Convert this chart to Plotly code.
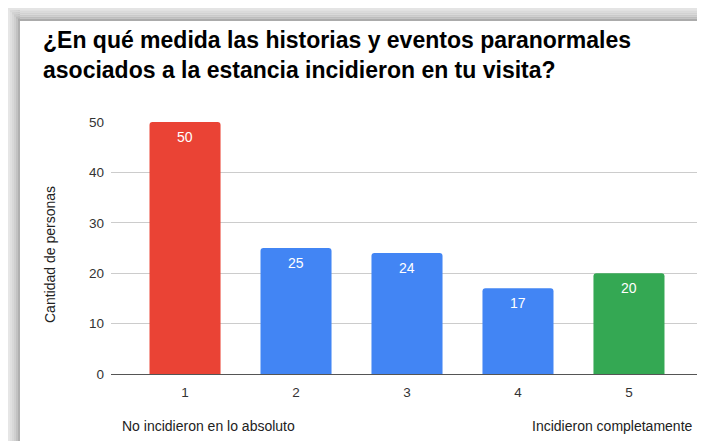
import plotly.graph_objects as go

categories = ["1", "2", "3", "4", "5"]
values = [50, 25, 24, 17, 20]
bar_colors = ["#EA4335", "#4285F4", "#4285F4", "#4285F4", "#34A853"]
y_ticks = [0, 10, 20, 30, 40, 50]
title_text = "¿En qué medida las historias y eventos paranormales<br>asociados a la estancia incidieron en tu visita?"
y_title = "Cantidad de personas"
low_label = "No incidieron en lo absoluto"
high_label = "Incidieron completamente"

W, H = 705, 441
L, R, T, B = 103, 10, 114, 75
PW, PH = W - L - R, H - T - B

def px(x):
    return (x - L) / PW

def py(y):
    return (H - B - y) / PH

FONT = "Arial, Liberation Sans, sans-serif"
TXT = "#333333"

fig = go.Figure()
fig.add_trace(go.Bar(
    x=categories, y=values,
    marker=dict(color=bar_colors, line=dict(width=0)),
    width=0.64,
    hoverinfo="skip",
))

shapes = []
# shadow frame: top and left gradient strips
left_cols = ["#e6e6e6", "#e0e0e0", "#d8d8d8", "#cfcfcf", "#c2c2c2", "#b0b0b0"]
for i, c in enumerate(left_cols):
    shapes.append(dict(type="rect", xref="paper", yref="paper", layer="below",
                       x0=px(i * 2), x1=px(i * 2 + 2), y0=py(H), y1=py(0),
                       fillcolor=c, line=dict(width=0)))
top_cols = ["#e4e4e4", "#dadada", "#d2d2d2", "#cacaca", "#bdbdbd", "#ababab"]
for i, c in enumerate(top_cols):
    y0 = i * 13 / 6
    shapes.append(dict(type="rect", xref="paper", yref="paper", layer="below",
                       x0=px(min(i * 2, 12)), x1=px(W), y0=py(y0 + 13 / 6), y1=py(y0),
                       fillcolor=c, line=dict(width=0)))

annotations = [
    dict(text=y_title, xref="paper", yref="paper", x=px(42), y=py(247),
         textangle=-90, showarrow=False, xanchor="center", yanchor="middle",
         font=dict(size=14, color="#222222", family=FONT)),
    dict(text=low_label, xref="paper", yref="paper", x=px(111.5), y=py(418),
         showarrow=False, xanchor="left", yanchor="middle",
         font=dict(size=14, color="#222222", family=FONT)),
    dict(text=high_label, xref="paper", yref="paper", x=px(686.5), y=py(418),
         showarrow=False, xanchor="right", yanchor="middle",
         font=dict(size=14, color="#222222", family=FONT)),
]
# value labels: x is the category index on the category axis
for i, v in enumerate(values):
    annotations.append(dict(text=str(v), x=i, y=v, xref="x", yref="y",
                            showarrow=False, xanchor="center", yanchor="middle",
                            yshift=-14.5,
                            font=dict(size=14, color="white", family=FONT)))

fig.update_layout(
    width=W, height=H,
    margin=dict(l=L, r=R, t=T, b=B, pad=0),
    paper_bgcolor="white", plot_bgcolor="white",
    showlegend=False,
    barcornerradius=3,
    font=dict(family=FONT, size=12, color=TXT),
    title=dict(text=title_text, xref="container", yref="container",
               x=35 / W, xanchor="left", y=1 - 40 / H, yanchor="top",
               font=dict(family=FONT, size=23, color="#000000", weight="bold")),
    xaxis=dict(type="category", range=[-0.667, 4.667], showgrid=False,
               showline=True, linecolor="#555555", linewidth=1,
               ticks="", ticklabelstandoff=6,
               tickfont=dict(size=13.5, color=TXT, family=FONT),
               fixedrange=True),
    yaxis=dict(range=[0, 50], tickvals=y_ticks, showgrid=True,
               gridcolor="#cccccc", gridwidth=1, zeroline=False,
               showline=False, ticks="", ticklabelstandoff=6,
               tickfont=dict(size=13.5, color=TXT, family=FONT),
               fixedrange=True),
    shapes=shapes,
    annotations=annotations,
)

fig.write_html("out.html")
